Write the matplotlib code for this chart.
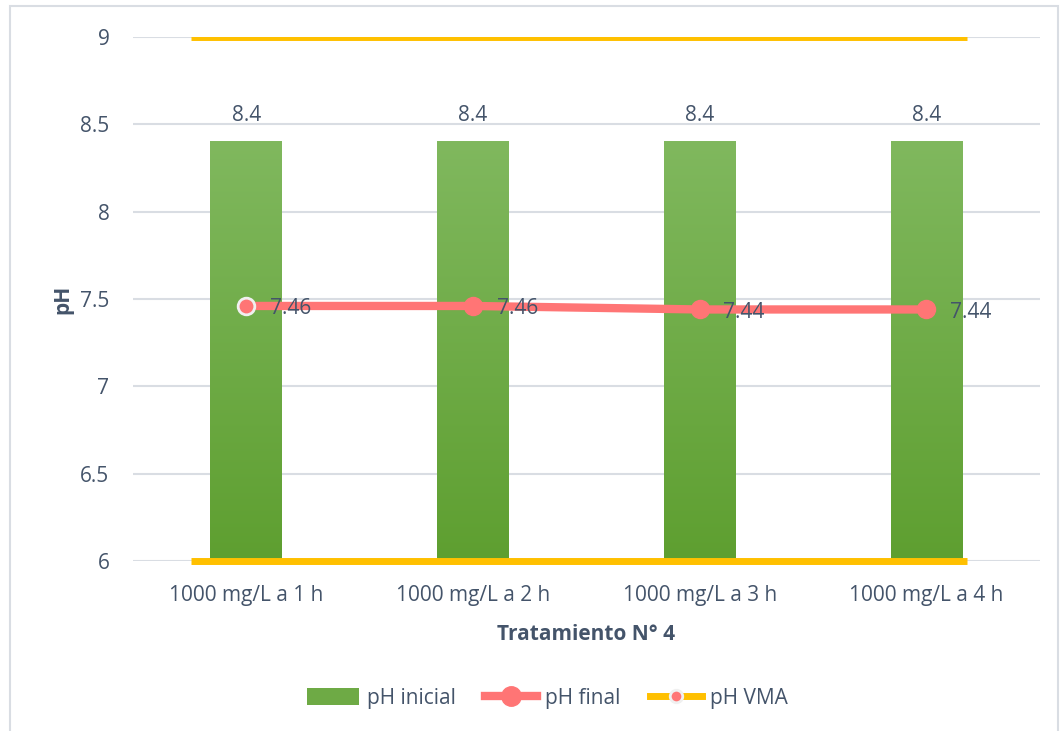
import numpy as np
import matplotlib
matplotlib.use("Agg")
import matplotlib.pyplot as plt
from matplotlib.patches import Rectangle
from matplotlib.lines import Line2D
from matplotlib.patches import Patch

categories = ["1000 mg/L a 1 h", "1000 mg/L a 2 h", "1000 mg/L a 3 h", "1000 mg/L a 4 h"]
ph_inicial = [8.4, 8.4, 8.4, 8.4]
ph_final = [7.46, 7.46, 7.44, 7.44]
vma_max = 9
vma_min = 6
yticks = [6, 6.5, 7, 7.5, 8, 8.5, 9]

plt.rcParams['font.family'] = ['Open Sans', 'DejaVu Sans']
txt = '#44546A'
fs = 15

fig = plt.figure(figsize=(10.61, 7.31), dpi=100)
fig.patches.append(Rectangle((0.009, -0.01), 0.988, 1.002, transform=fig.transFigure,
                             fill=False, ec='#D9DDE3', lw=1.5, zorder=0))
ax = fig.add_axes([0.1254, 0.2326, 0.8546, 0.7168])

x = np.arange(len(categories))
bw = 0.317
ax.set_xlim(-0.5, len(categories) - 0.5)
ax.set_ylim(6, 9)

# gradient bars
grad = np.linspace(0, 1, 256).reshape(-1, 1)
cmap = matplotlib.colors.LinearSegmentedColormap.from_list('g', ['#5E9F30', '#80B85E'])
for xi, v in zip(x, ph_inicial):
    ax.imshow(grad, extent=(xi - bw/2, xi + bw/2, vma_min, v), origin='lower',
              cmap=cmap, aspect='auto', zorder=2)
    ax.text(xi, v + 0.09, f"{v:g}", ha='center', va='bottom', fontsize=fs, color=txt)

# VMA lines
xl = [-0.245, len(categories) - 0.82]
ax.plot(xl, [vma_max, vma_max], color='#FFC000', lw=5, solid_capstyle='butt', zorder=3)
ax.plot(xl, [vma_min, vma_min], color='#FFC000', lw=5, solid_capstyle='butt', zorder=3,
        clip_on=False)

# pH final
ax.plot(x, ph_final, color='#FF7575', lw=6, zorder=4)
ax.plot(x[1:], ph_final[1:], 'o', color='#FF7575', ms=13, mec='#FF7575', zorder=5)
ax.plot(x[:1], ph_final[:1], 'o', color='#FF7575', ms=12, mec='#F0F0F0', mew=2, zorder=5)
for xi, v in zip(x, ph_final):
    ax.annotate(f"{v:.2f}", (xi, v), xytext=(17, -2), textcoords='offset points',
                ha='left', va='center', fontsize=fs, color=txt, zorder=6)

ax.set_yticks(yticks)
ax.set_yticklabels([f"{t:g}" for t in yticks])
ax.set_xticks(x)
ax.set_xticklabels(categories)
ax.tick_params(length=0, labelsize=fs, colors=txt)
ax.tick_params(axis='y', pad=17)
ax.tick_params(axis='x', pad=17)
ax.grid(axis='y', color='#D9DDE3', lw=1.5, zorder=0)
ax.set_axisbelow(True)
for s in ax.spines.values():
    s.set_visible(False)

ax.set_ylabel('pH', fontsize=fs, fontweight='bold', color=txt, labelpad=5)
ax.set_xlabel('Tratamiento N° 4', fontsize=fs, fontweight='bold', color=txt, labelpad=13)

handles = [Patch(facecolor='#6EAA45', edgecolor='none'),
           Line2D([], [], color='#FF7575', lw=6, marker='o', ms=14),
           Line2D([], [], color='#FFC000', lw=5, marker='o', ms=9, mfc='#FF7575',
                  mec='#F0F0F0', mew=2)]
leg = fig.legend(handles, ['pH inicial', 'pH final', 'pH VMA'], loc='center',
                 bbox_to_anchor=(0.516, 0.045), ncol=3, frameon=False, fontsize=fs,
                 handlelength=2.5, handleheight=0.9, columnspacing=1.4, handletextpad=0.4)
for t in leg.get_texts():
    t.set_color(txt)

fig.savefig('out.png', dpi=100)
